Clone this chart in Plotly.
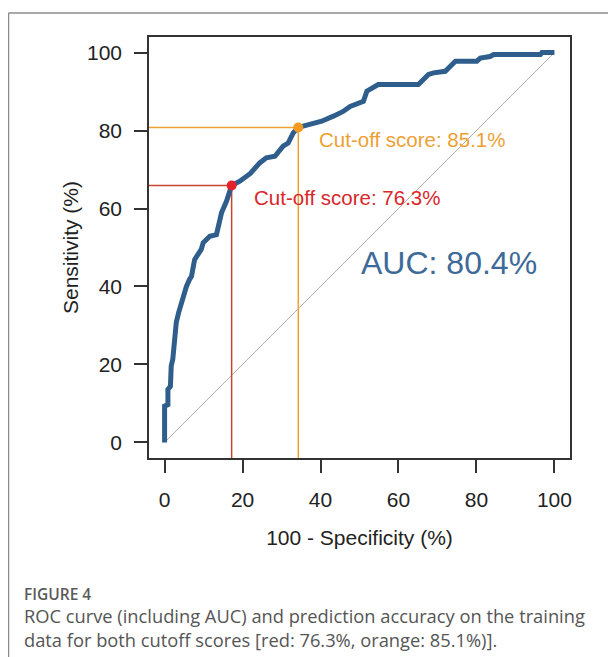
import plotly.graph_objects as go

# ROC curve data (100 - specificity %, sensitivity %)
fpr = [0, 0, 0.85, 0.85, 1.5, 1.7, 2.1, 2.6, 3.0, 3.6, 4.1, 4.3, 5.1, 5.6, 6.4, 6.9, 7.7, 9.4, 9.9,
       11.6, 13.3, 13.7, 14.6, 15.9, 17.2, 19.3, 21.0, 22.0, 24.4, 26.1, 28.3, 30.4, 31.7, 33.0,
       34.3, 37.3, 40.3, 43.3, 45.8, 47.6, 49.3, 51.0, 51.9, 53.5, 54.8, 65.1, 66.0, 67.7, 69.0,
       72.0, 73.3, 74.6, 80.1, 81.0, 83.5, 84.4, 96.4, 96.8, 100]
tpr = [0, 9.3, 9.7, 13.6, 14.4, 19.6, 21.3, 29.0, 30.8, 33.3, 35.2, 36.0, 38.5, 40.0, 41.8, 42.6, 46.9, 49.5, 51.2,
       52.9, 53.3, 55.5, 58.9, 61.9, 65.9, 67.0, 68.3, 69.0, 71.7, 73.0, 73.4, 76.0, 76.8, 79.4,
       80.8, 81.5, 82.4, 83.7, 84.9, 86.2, 86.7, 87.5, 90.1, 90.9, 91.8, 91.8, 92.6, 94.4, 94.8,
       95.2, 96.5, 97.8, 97.8, 98.6, 99.0, 99.5, 99.5, 100, 100]

cut_labels = ["Cut-off score: 76.3%", "Cut-off score: 85.1%"]
cut_fpr = [17.2, 34.3]
cut_tpr = [65.9, 80.8]
label_x = [22.3, 39.2]
label_y = [62.8, 77.8]
auc_text = "AUC: 80.4%"
auc_pos = [73.0, 46.1]

tick_vals = [0, 20, 40, 60, 80, 100]
axis_range = [-4, 104]

x_title = "100 - Specificity (%)"
y_title = "Sensitivity (%)"
caption_head = "FIGURE 4"
caption_lines = ["ROC curve (including AUC) and prediction accuracy on the training",
                 "data for both cutoff scores [red: 76.3%, orange: 85.1%)]."]

line_colors = ["#c9452f", "#f0a033"]
point_colors = ["#e3222a", "#f39a22"]
text_colors = ["#d9272b", "#ee9f33"]
curve_color = "#2f5e8c"
font_fam = "Liberation Sans, Arial, sans-serif"

fig = go.Figure()

# diagonal reference
fig.add_trace(go.Scatter(x=[0, 100], y=[0, 100], mode="lines",
                         line=dict(color="#b7aca4", width=1), hoverinfo="skip", showlegend=False))

# cut-off guide lines
for i in range(2):
    fig.add_trace(go.Scatter(x=[axis_range[0], cut_fpr[i], cut_fpr[i]],
                             y=[cut_tpr[i], cut_tpr[i], axis_range[0]],
                             mode="lines", line=dict(color=line_colors[i], width=1.5),
                             hoverinfo="skip", showlegend=False))

# ROC curve
fig.add_trace(go.Scatter(x=fpr, y=tpr, mode="lines",
                         line=dict(color=curve_color, width=5), showlegend=False))

# cut-off points
for i in range(2):
    fig.add_trace(go.Scatter(x=[cut_fpr[i]], y=[cut_tpr[i]], mode="markers",
                             marker=dict(color=point_colors[i], size=10), showlegend=False))
    fig.add_annotation(x=label_x[i], y=label_y[i], text=cut_labels[i], showarrow=False,
                       xanchor="left", yanchor="middle",
                       font=dict(family=font_fam, size=20.5, color=text_colors[i]))

fig.add_annotation(x=auc_pos[0], y=auc_pos[1], text=auc_text, showarrow=False,
                   xanchor="center", yanchor="middle",
                   font=dict(family=font_fam, size=32, color="#3d6a99"))

axis_common = dict(range=axis_range, tickvals=tick_vals, ticks="outside", ticklen=13,
                   tickwidth=1.5, tickcolor="#333", showline=True, mirror=True,
                   linecolor="#333", linewidth=1.5, showgrid=False, zeroline=False,
                   tickfont=dict(family=font_fam, size=21, color="#222"))

fig.update_xaxes(**axis_common, ticklabelstandoff=9,
                 title=dict(text=x_title, standoff=20, font=dict(family=font_fam, size=21, color="#222")))
fig.update_yaxes(**axis_common, ticklabelstandoff=8,
                 title=dict(text=y_title, standoff=3, font=dict(family=font_fam, size=21, color="#222")))

# page body adds an 8px offset; lay the figure out in window coordinates minus it
OFF = 8
W, H = 616 - OFF, 657 - OFF
L, R, T, B = 149 - OFF, 46, 37 - OFF, 199
pw, ph = W - L - R, H - T - B


def px_x(px):
    return (px - OFF - L) / pw


def px_y(py):
    return (H - B - (py - OFF)) / ph


# outer frame lines (top and left)
fig.add_shape(type="line", xref="paper", yref="paper", x0=px_x(8.5), x1=px_x(620),
              y0=px_y(13), y1=px_y(13), line=dict(color="#8c8c8c", width=1.5))
fig.add_shape(type="line", xref="paper", yref="paper", x0=px_x(8.5), x1=px_x(8.5),
              y0=px_y(13), y1=px_y(660), line=dict(color="#8c8c8c", width=1.5))

cap_font = "Open Sans, Noto Sans, sans-serif"
fig.add_annotation(xref="paper", yref="paper", x=px_x(22), y=px_y(594), text=caption_head,
                   showarrow=False, xanchor="left", yanchor="middle",
                   font=dict(family=cap_font, size=15.5, color="#5a5a5a", weight=600))
fig.add_annotation(xref="paper", yref="paper", x=px_x(22), y=px_y(627), text="<br>".join(caption_lines),
                   showarrow=False, xanchor="left", yanchor="middle", align="left",
                   font=dict(family=cap_font, size=18.3, color="#555"))

fig.update_layout(width=W, height=H, margin=dict(l=L, r=R, t=T, b=B),
                  paper_bgcolor="white", plot_bgcolor="white")

fig.write_html("out.html")
